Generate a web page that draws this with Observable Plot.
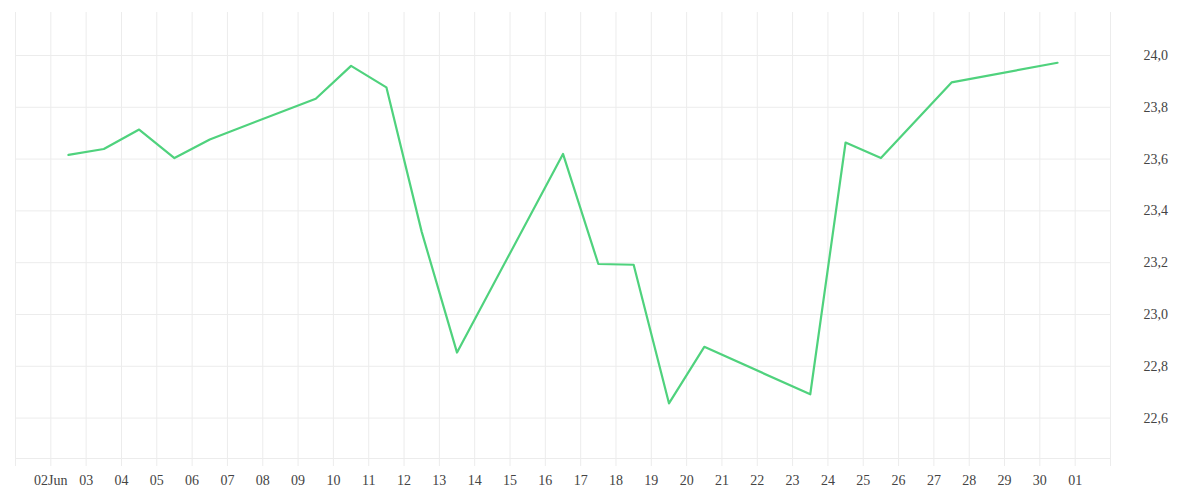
<!DOCTYPE html>
<html>
<head>
<meta charset="utf-8">
<script src="https://cdn.jsdelivr.net/npm/d3@7"></script>
<script src="https://cdn.jsdelivr.net/npm/@observablehq/plot@0.6"></script>
<style>
  html, body { margin: 0; padding: 0; background: #fff; }
</style>
</head>
<body>
<div id="chart"></div>
<script>
// Data (one reading per day, mid-day)
const dates = [
  "2023-06-02T12:00Z", "2023-06-03T12:00Z", "2023-06-04T12:00Z", "2023-06-05T12:00Z",
  "2023-06-06T12:00Z", "2023-06-09T12:00Z", "2023-06-10T12:00Z", "2023-06-11T12:00Z",
  "2023-06-12T12:00Z", "2023-06-13T12:00Z", "2023-06-16T12:00Z", "2023-06-17T12:00Z",
  "2023-06-18T12:00Z", "2023-06-19T12:00Z", "2023-06-20T12:00Z", "2023-06-23T12:00Z",
  "2023-06-24T12:00Z", "2023-06-25T12:00Z", "2023-06-27T12:00Z", "2023-06-30T12:00Z"
];
const values = [
  23.616, 23.639, 23.714, 23.604,
  23.676, 23.833, 23.960, 23.877,
  23.319, 22.853, 23.620, 23.195,
  23.192, 22.657, 22.875, 22.692,
  23.664, 23.604, 23.896, 23.972
];

// Axis ticks
const xTickDates = [
  "2023-06-01", "2023-06-02", "2023-06-03", "2023-06-04", "2023-06-05", "2023-06-06",
  "2023-06-07", "2023-06-08", "2023-06-09", "2023-06-10", "2023-06-11", "2023-06-12",
  "2023-06-13", "2023-06-14", "2023-06-15", "2023-06-16", "2023-06-17", "2023-06-18",
  "2023-06-19", "2023-06-20", "2023-06-21", "2023-06-22", "2023-06-23", "2023-06-24",
  "2023-06-25", "2023-06-26", "2023-06-27", "2023-06-28", "2023-06-29", "2023-06-30",
  "2023-07-01", "2023-07-02"
];
const xTickLabels = [
  "", "02Jun", "03", "04", "05", "06",
  "07", "08", "09", "10", "11", "12",
  "13", "14", "15", "16", "17", "18",
  "19", "20", "21", "22", "23", "24",
  "25", "26", "27", "28", "29", "30",
  "01", ""
];
const yTicks = [22.6, 22.8, 23.0, 23.2, 23.4, 23.6, 23.8, 24.0];
const yDomain = [22.444, 24.166];

const data = dates.map((d, i) => ({date: new Date(d), value: values[i]}));
const xTicks = xTickDates.map(d => new Date(d + "T00:00Z"));
const labelByTime = new Map(xTicks.map((d, i) => [+d, xTickLabels[i]]));

const gridColor = "#ececec";
const textColor = "#444";

const chart = Plot.plot({
  width: 1200,
  height: 500,
  marginTop: 12,
  marginLeft: 15,
  marginRight: 90,
  marginBottom: 42,
  style: {fontFamily: "'Liberation Serif', serif", fontSize: "14px", background: "#fff"},
  x: {type: "utc", domain: [xTicks[0], xTicks[xTicks.length - 1]], label: null},
  y: {domain: yDomain, label: null},
  marks: [
    Plot.gridX(xTicks, {stroke: gridColor, strokeOpacity: 1}),
    Plot.gridY(yTicks, {stroke: gridColor, strokeOpacity: 1}),
    Plot.ruleY([yDomain[0]], {stroke: gridColor, strokeOpacity: 1}),
    Plot.axisX(xTicks, {
      tickSize: 8, tickPadding: 9, stroke: gridColor, strokeOpacity: 1, label: null,
      fill: textColor, tickFormat: d => labelByTime.get(+d)
    }),
    Plot.axisY(yTicks, {
      anchor: "right", tickSize: 0, tickPadding: 18, dx: 15, label: null,
      fill: textColor, tickFormat: d => d.toFixed(1).replace(".", ",")
    }),
    Plot.line(data, {x: "date", y: "value", stroke: "#4fd27d", strokeWidth: 2.2, curve: "linear"})
  ]
});
document.getElementById("chart").appendChild(chart);
</script>
</body>
</html>
